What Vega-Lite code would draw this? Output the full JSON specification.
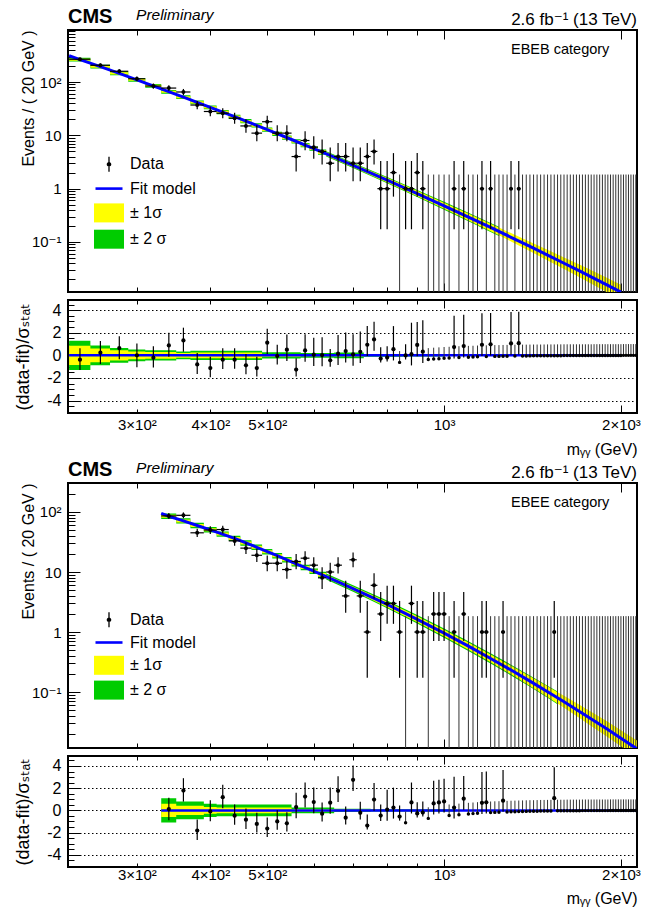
{
"$schema":"https://vega.github.io/schema/vega-lite/v6.json",
"padding":{"left":13,"top":5,"right":5,"bottom":5},
"background":"white",
"config":{"font":"Liberation Sans, DejaVu Sans, sans-serif","view":{"stroke":"black","strokeWidth":2},
"axis":{"labelFont":"Liberation Sans, DejaVu Sans, sans-serif","titleFont":"Liberation Sans, DejaVu Sans, sans-serif","labelColor":"black","titleColor":"black","tickColor":"black","tickWidth":1,"domain":false,"grid":false,"titleFontWeight":"normal","labelFontSize":15,"labelOverlap":false,"labelFlush":false}},
"datasets":{
"d1":[
{"m":240,"a":230,"b":250,"n":267,"lo":250.7,"hi":284.3,"p":-0.38,"pl":-1.3,"ph":0.62},
{"m":260,"a":250,"b":270,"n":206,"lo":191.6,"hi":221.4,"p":0.24,"pl":-0.76,"ph":1.27},
{"m":280,"a":270,"b":290,"n":159,"lo":146.4,"hi":172.6,"p":0.65,"pl":-0.35,"ph":1.7},
{"m":300,"a":290,"b":310,"n":115,"lo":104.3,"hi":126.7,"p":0,"pl":-1.05,"ph":1.05},
{"m":320,"a":310,"b":330,"n":84,"lo":74.8,"hi":94.2,"p":-0.2,"pl":-1.07,"ph":0.8},
{"m":340,"a":330,"b":350,"n":77,"lo":68.2,"hi":86.8,"p":0.88,"pl":-0.12,"ph":2.0},
{"m":360,"a":350,"b":370,"n":65,"lo":56.9,"hi":74.1,"p":1.32,"pl":0.32,"ph":2.45},
{"m":380,"a":370,"b":390,"n":37,"lo":30.9,"hi":44.1,"p":-0.8,"pl":-1.65,"ph":0.2},
{"m":400,"a":390,"b":410,"n":28,"lo":22.7,"hi":34.3,"p":-1.12,"pl":-1.93,"ph":-0.12},
{"m":420,"a":410,"b":430,"n":26,"lo":20.9,"hi":32.1,"p":-0.38,"pl":-1.2,"ph":0.62},
{"m":440,"a":430,"b":450,"n":21,"lo":16.5,"hi":26.6,"p":-0.38,"pl":-1.18,"ph":0.62},
{"m":460,"a":450,"b":470,"n":15,"lo":11.17,"hi":19.95,"p":-0.88,"pl":-1.66,"ph":0.12},
{"m":480,"a":470,"b":490,"n":11,"lo":7.73,"hi":15.42,"p":-1.12,"pl":-1.86,"ph":-0.12},
{"m":500,"a":490,"b":510,"n":18,"lo":13.8,"hi":23.3,"p":1.12,"pl":0.12,"ph":2.36},
{"m":520,"a":510,"b":530,"n":11,"lo":7.73,"hi":15.42,"p":-0.06,"pl":-0.8,"ph":0.94},
{"m":540,"a":530,"b":550,"n":11,"lo":7.73,"hi":15.42,"p":0.5,"pl":-0.5,"ph":1.85},
{"m":560,"a":550,"b":570,"n":4,"lo":2.09,"hi":7.16,"p":-1.26,"pl":-1.87,"ph":-0.26},
{"m":580,"a":570,"b":590,"n":8,"lo":5.23,"hi":11.95,"p":0.44,"pl":-0.56,"ph":1.87},
{"m":600,"a":590,"b":610,"n":6,"lo":3.62,"hi":9.58,"p":0.06,"pl":-0.94,"ph":1.56},
{"m":620,"a":610,"b":630,"n":5,"lo":2.84,"hi":8.38,"p":0.03,"pl":-0.97,"ph":1.6},
{"m":640,"a":630,"b":650,"n":3,"lo":1.37,"hi":5.92,"p":-0.44,"pl":-1.0,"ph":0.56},
{"m":660,"a":650,"b":670,"n":4,"lo":2.09,"hi":7.16,"p":0.15,"pl":-0.85,"ph":1.8},
{"m":680,"a":670,"b":690,"n":4,"lo":2.09,"hi":7.16,"p":0.38,"pl":-0.62,"ph":2.03},
{"m":700,"a":690,"b":710,"n":3,"lo":1.37,"hi":5.92,"p":0.09,"pl":-0.91,"ph":1.88},
{"m":720,"a":710,"b":730,"n":3,"lo":1.37,"hi":5.92,"p":0.32,"pl":-0.68,"ph":2.11},
{"m":740,"a":730,"b":750,"n":4,"lo":2.09,"hi":7.16,"p":0.94,"pl":-0.06,"ph":2.59},
{"m":760,"a":750,"b":770,"n":5,"lo":2.84,"hi":8.38,"p":1.41,"pl":0.41,"ph":2.98},
{"m":780,"a":770,"b":790,"n":1,"lo":0.173,"hi":3.3,"p":-0.28,"pl":-0.64,"ph":0.72},
{"m":800,"a":790,"b":810,"n":1,"lo":0.173,"hi":3.3,"p":-0.19,"pl":-0.55,"ph":0.81},
{"m":820,"a":810,"b":830,"n":2,"lo":0.708,"hi":4.64,"p":0.55,"pl":-0.45,"ph":2.59},
{"m":860,"a":850,"b":870,"n":1,"lo":0.173,"hi":3.3,"p":-0.01,"pl":-0.37,"ph":0.99},
{"m":880,"a":870,"b":890,"n":1,"lo":0.173,"hi":3.3,"p":0.11,"pl":-0.89,"ph":2.89},
{"m":900,"a":890,"b":910,"n":2,"lo":0.708,"hi":4.64,"p":0.92,"pl":-0.08,"ph":2.96},
{"m":920,"a":910,"b":930,"n":1,"lo":0.173,"hi":3.3,"p":0.33,"pl":-0.67,"ph":3.11},
{"m":1040,"a":1030,"b":1050,"n":1,"lo":0.173,"hi":3.3,"p":0.73,"pl":-0.27,"ph":3.51},
{"m":1080,"a":1070,"b":1090,"n":1,"lo":0.173,"hi":3.3,"p":0.82,"pl":-0.18,"ph":3.6},
{"m":1160,"a":1150,"b":1170,"n":1,"lo":0.173,"hi":3.3,"p":0.94,"pl":-0.06,"ph":3.72},
{"m":1200,"a":1190,"b":1210,"n":1,"lo":0.173,"hi":3.3,"p":0.98,"pl":-0.02,"ph":3.76},
{"m":1300,"a":1290,"b":1310,"n":1,"lo":0.173,"hi":3.3,"p":1.06,"pl":0.06,"ph":3.84},
{"m":1340,"a":1330,"b":1350,"n":1,"lo":0.173,"hi":3.3,"p":1.08,"pl":0.08,"ph":3.86}],
"z1":[
{"m":840,"p":-0.62,"ph":0.38},{"m":940,"p":-0.36,"ph":0.64},{"m":960,"p":-0.32,"ph":0.68},{"m":980,"p":-0.29,"ph":0.71},{"m":1000,"p":-0.26,"ph":0.74},{"m":1020,"p":-0.24,"ph":0.76},{"m":1060,"p":-0.19,"ph":0.81},{"m":1100,"p":-0.16,"ph":0.84},{"m":1120,"p":-0.15,"ph":0.85},{"m":1140,"p":-0.13,"ph":0.87},{"m":1180,"p":-0.11,"ph":0.89},{"m":1220,"p":-0.09,"ph":0.91},{"m":1240,"p":-0.09,"ph":0.91},{"m":1260,"p":-0.08,"ph":0.92},{"m":1280,"p":-0.07,"ph":0.93},{"m":1320,"p":-0.06,"ph":0.94},{"m":1360,"p":-0.05,"ph":0.95},{"m":1380,"p":-0.05,"ph":0.95},{"m":1400,"p":-0.045,"ph":0.955},{"m":1420,"p":-0.04,"ph":0.96},{"m":1440,"p":-0.04,"ph":0.96},{"m":1460,"p":-0.04,"ph":0.96},{"m":1480,"p":-0.035,"ph":0.965},{"m":1500,"p":-0.03,"ph":0.97},{"m":1520,"p":-0.03,"ph":0.97},{"m":1540,"p":-0.03,"ph":0.97},{"m":1560,"p":-0.025,"ph":0.975},{"m":1580,"p":-0.025,"ph":0.975},{"m":1600,"p":-0.02,"ph":0.98},{"m":1620,"p":-0.02,"ph":0.98},{"m":1640,"p":-0.02,"ph":0.98},{"m":1660,"p":-0.02,"ph":0.98},{"m":1680,"p":-0.02,"ph":0.98},{"m":1700,"p":-0.02,"ph":0.98},{"m":1720,"p":-0.02,"ph":0.98},{"m":1740,"p":-0.02,"ph":0.98},{"m":1760,"p":-0.02,"ph":0.98},{"m":1780,"p":-0.02,"ph":0.98},{"m":1800,"p":-0.01,"ph":0.99},{"m":1820,"p":-0.01,"ph":0.99},{"m":1840,"p":-0.01,"ph":0.99},{"m":1860,"p":-0.01,"ph":0.99},{"m":1880,"p":-0.01,"ph":0.99},{"m":1900,"p":-0.01,"ph":0.99},{"m":1920,"p":-0.01,"ph":0.99},{"m":1940,"p":-0.01,"ph":0.99},{"m":1960,"p":-0.01,"ph":0.99},{"m":1980,"p":-0.01,"ph":0.99},{"m":2000,"p":-0.01,"ph":0.99},{"m":2020,"p":0,"ph":1},{"m":2040,"p":0,"ph":1},{"m":2060,"p":0,"ph":1},{"m":2080,"p":0,"ph":1},{"m":2100,"p":0,"ph":1},{"m":2120,"p":0,"ph":1}],
"f1":[{"m":230,"f":313},{"m":240,"f":262},{"m":260,"f":194},{"m":280,"f":145},{"m":300,"f":110},{"m":330,"f":74.5},{"m":360,"f":51.9},{"m":400,"f":33.5},{"m":450,"f":20.3},{"m":500,"f":12.8},{"m":550,"f":8.35},{"m":600,"f":5.62},{"m":650,"f":3.89},{"m":700,"f":2.74},{"m":800,"f":1.443},{"m":900,"f":0.81},{"m":1000,"f":0.477},{"m":1100,"f":0.2935},{"m":1200,"f":0.187},{"m":1300,"f":0.1225},{"m":1400,"f":0.0825},{"m":1500,"f":0.0568},{"m":1600,"f":0.0399},{"m":1700,"f":0.0286},{"m":1800,"f":0.0208},{"m":1900,"f":0.0153},{"m":2000,"f":0.01145}],
"s1":[
{"m":230,"y1l":250.2,"y1h":274.3,"y2l":241.7,"y2h":284.0},
{"m":250,"y1l":185.3,"y1h":203.1,"y2l":179.0,"y2h":210.3},
{"m":270,"y1l":138.5,"y1h":151.8,"y2l":133.8,"y2h":157.2},
{"m":290,"y1l":105.1,"y1h":115.2,"y2l":101.5,"y2h":119.2},
{"m":310,"y1l":80.7,"y1h":88.5,"y2l":78.0,"y2h":91.6},
{"m":330,"y1l":62.6,"y1h":68.7,"y2l":60.5,"y2h":71.1},
{"m":350,"y1l":49.6,"y1h":54.3,"y2l":47.9,"y2h":56.3},
{"m":370,"y1l":39.6,"y1h":43.5,"y2l":38.3,"y2h":45.0},
{"m":390,"y1l":32.0,"y1h":35.1,"y2l":30.9,"y2h":36.3},
{"m":410,"y1l":25.68,"y1h":28.81,"y2l":24.81,"y2h":29.82},
{"m":430,"y1l":21.05,"y1h":23.62,"y2l":20.34,"y2h":24.45},
{"m":450,"y1l":17.37,"y1h":19.49,"y2l":16.78,"y2h":20.18},
{"m":470,"y1l":14.44,"y1h":16.21,"y2l":13.95,"y2h":16.78},
{"m":490,"y1l":12.08,"y1h":13.56,"y2l":11.67,"y2h":14.04},
{"m":510,"y1l":10.10,"y1h":11.33,"y2l":9.76,"y2h":11.73},
{"m":530,"y1l":8.55,"y1h":9.60,"y2l":8.26,"y2h":9.93},
{"m":550,"y1l":7.26,"y1h":8.15,"y2l":7.01,"y2h":8.43},
{"m":570,"y1l":6.18,"y1h":6.94,"y2l":5.97,"y2h":7.18},
{"m":590,"y1l":5.31,"y1h":5.95,"y2l":5.13,"y2h":6.16},
{"m":610,"y1l":4.456,"y1h":5.235,"y2l":4.305,"y2h":5.419},
{"m":630,"y1l":4.456,"y1h":5.235,"y2l":4.305,"y2h":5.419}],
"c1":[
{"m":630,"y1l":4.133,"y1h":4.856,"y2l":3.993,"y2h":5.027},
{"m":700,"y1l":2.528,"y1h":2.970,"y2l":2.442,"y2h":3.074},
{"m":800,"y1l":1.301,"y1h":1.600,"y2l":1.257,"y2h":1.657},
{"m":900,"y1l":0.722,"y1h":0.909,"y2l":0.697,"y2h":0.941},
{"m":1000,"y1l":0.419,"y1h":0.543,"y2l":0.401,"y2h":0.567},
{"m":1100,"y1l":0.2527,"y1h":0.3409,"y2l":0.2441,"y2h":0.3529},
{"m":1200,"y1l":0.1592,"y1h":0.2197,"y2l":0.1538,"y2h":0.2274},
{"m":1240,"y1l":0.1339,"y1h":0.1865,"y2l":0.1293,"y2h":0.1930},
{"m":1300,"y1l":0.1024,"y1h":0.1466},
{"m":1400,"y1l":0.0671,"y1h":0.1015},
{"m":1500,"y1l":0.0451,"y1h":0.0715},
{"m":1600,"y1l":0.0310,"y1h":0.0514},
{"m":1700,"y1l":0.0217,"y1h":0.0377},
{"m":1800,"y1l":0.01549,"y1h":0.02793},
{"m":1900,"y1l":0.01121,"y1h":0.02088},
{"m":2000,"y1l":0.00829,"y1h":0.01581}],
"r1":[
{"m":230,"yl":-0.85,"yh":0.85,"gl":-1.3,"gh":1.3},
{"m":250,"yl":-0.6,"yh":0.6,"gl":-0.88,"gh":0.88},
{"m":270,"yl":-0.45,"yh":0.45,"gl":-0.65,"gh":0.65},
{"m":290,"yl":-0.35,"yh":0.35,"gl":-0.53,"gh":0.53},
{"m":310,"yl":-0.3,"yh":0.3,"gl":-0.45,"gh":0.45},
{"m":350,"yl":-0.22,"yh":0.22,"gl":-0.35,"gh":0.35},
{"m":370,"yl":-0.25,"yh":0.25,"gl":-0.4,"gh":0.4},
{"m":490,"yl":-0.12,"yh":0.12,"gl":-0.28,"gh":0.28},
{"m":570,"yl":-0.08,"yh":0.08,"gl":-0.2,"gh":0.2},
{"m":650,"yl":-0.1,"yh":0.1,"gl":-0.25,"gh":0.25},
{"m":730,"yl":-0.06,"yh":0.06,"gl":-0.12,"gh":0.12},
{"m":850,"yl":-0.05,"yh":0.05,"gl":-0.1,"gh":0.1},
{"m":1000,"yl":-0.05,"yh":0.05,"gl":-0.1,"gh":0.1}],
"d2":[
{"m":340,"a":330,"b":350,"n":86,"lo":76.7,"hi":96.3,"p":0.12,"pl":-0.88,"ph":1.14},
{"m":360,"a":350,"b":370,"n":88,"lo":78.6,"hi":98.4,"p":1.79,"pl":0.79,"ph":2.9},
{"m":380,"a":370,"b":390,"n":45,"lo":38.3,"hi":52.7,"p":-1.82,"pl":-2.67,"ph":-0.82},
{"m":400,"a":390,"b":410,"n":50,"lo":42.9,"hi":58.1,"p":-0.09,"pl":-0.97,"ph":0.91},
{"m":420,"a":410,"b":430,"n":51,"lo":43.8,"hi":59.2,"p":1.19,"pl":0.19,"ph":2.3},
{"m":440,"a":430,"b":450,"n":33,"lo":27.3,"hi":39.8,"p":-0.48,"pl":-1.3,"ph":0.52},
{"m":460,"a":450,"b":470,"n":25,"lo":20.0,"hi":31.0,"p":-0.84,"pl":-1.67,"ph":0.16},
{"m":480,"a":470,"b":490,"n":19,"lo":14.7,"hi":24.4,"p":-1.22,"pl":-2.0,"ph":-0.22},
{"m":500,"a":490,"b":510,"n":14,"lo":10.3,"hi":18.8,"p":-1.64,"pl":-2.4,"ph":-0.64},
{"m":520,"a":510,"b":530,"n":14,"lo":10.3,"hi":18.8,"p":-0.99,"pl":-1.75,"ph":0.01},
{"m":540,"a":530,"b":550,"n":11,"lo":7.73,"hi":15.42,"p":-1.16,"pl":-1.9,"ph":-0.16},
{"m":560,"a":550,"b":570,"n":15,"lo":11.17,"hi":19.95,"p":0.3,"pl":-0.7,"ph":1.59},
{"m":580,"a":570,"b":590,"n":17,"lo":12.9,"hi":22.2,"p":1.25,"pl":0.25,"ph":2.52},
{"m":600,"a":590,"b":610,"n":13,"lo":9.44,"hi":17.7,"p":0.75,"pl":-0.25,"ph":2.07},
{"m":620,"a":610,"b":630,"n":8,"lo":5.23,"hi":11.95,"p":-0.3,"pl":-1.0,"ph":0.7},
{"m":640,"a":630,"b":650,"n":10,"lo":6.89,"hi":14.27,"p":0.69,"pl":-0.31,"ph":2.06},
{"m":660,"a":650,"b":670,"n":13,"lo":9.44,"hi":17.7,"p":1.76,"pl":0.76,"ph":3.08},
{"m":680,"a":670,"b":690,"n":4,"lo":2.09,"hi":7.16,"p":-0.66,"pl":-1.26,"ph":0.34},
{"m":700,"a":690,"b":710,"n":16,"lo":12.05,"hi":21.1,"p":2.75,"pl":1.75,"ph":4.04},
{"m":720,"a":710,"b":730,"n":4,"lo":2.09,"hi":7.16,"p":-0.22,"pl":-0.83,"ph":0.78},
{"m":740,"a":730,"b":750,"n":1,"lo":0.173,"hi":3.3,"p":-1.37,"pl":-1.73,"ph":-0.37},
{"m":760,"a":750,"b":770,"n":6,"lo":3.62,"hi":9.58,"p":0.97,"pl":-0.03,"ph":2.47},
{"m":780,"a":770,"b":790,"n":2,"lo":0.708,"hi":4.64,"p":-0.47,"pl":-0.96,"ph":0.53},
{"m":800,"a":790,"b":810,"n":3,"lo":1.37,"hi":5.92,"p":0.07,"pl":-0.93,"ph":1.86},
{"m":820,"a":810,"b":830,"n":3,"lo":1.37,"hi":5.92,"p":0.26,"pl":-0.74,"ph":2.05},
{"m":840,"a":830,"b":850,"n":1,"lo":0.173,"hi":3.3,"p":-0.56,"pl":-0.92,"ph":0.44},
{"m":880,"a":870,"b":890,"n":3,"lo":1.37,"hi":5.92,"p":0.72,"pl":-0.28,"ph":2.51},
{"m":900,"a":890,"b":910,"n":1,"lo":0.173,"hi":3.3,"p":-0.27,"pl":-0.63,"ph":0.73},
{"m":920,"a":910,"b":930,"n":1,"lo":0.173,"hi":3.3,"p":-0.2,"pl":-0.56,"ph":0.8},
{"m":960,"a":950,"b":970,"n":2,"lo":0.708,"hi":4.64,"p":0.63,"pl":-0.37,"ph":2.67},
{"m":980,"a":970,"b":990,"n":2,"lo":0.708,"hi":4.64,"p":0.72,"pl":-0.28,"ph":2.76},
{"m":1000,"a":990,"b":1010,"n":2,"lo":0.708,"hi":4.64,"p":0.81,"pl":-0.19,"ph":2.85},
{"m":1040,"a":1030,"b":1050,"n":1,"lo":0.173,"hi":3.3,"p":0.26,"pl":-0.74,"ph":3.04},
{"m":1080,"a":1070,"b":1090,"n":2,"lo":0.708,"hi":4.64,"p":1.05,"pl":0.05,"ph":3.09},
{"m":1160,"a":1150,"b":1170,"n":1,"lo":0.173,"hi":3.3,"p":0.68,"pl":-0.32,"ph":3.46},
{"m":1180,"a":1170,"b":1190,"n":1,"lo":0.173,"hi":3.3,"p":0.73,"pl":-0.27,"ph":3.51},
{"m":1260,"a":1250,"b":1270,"n":1,"lo":0.173,"hi":3.3,"p":0.87,"pl":-0.13,"ph":3.65},
{"m":1540,"a":1530,"b":1550,"n":1,"lo":0.173,"hi":3.3,"p":1.1,"pl":0.1,"ph":3.88}],
"z2":[
{"m":860,"p":-1.11,"ph":-0.11},{"m":940,"p":-0.72,"ph":0.28},{"m":1020,"p":-0.47,"ph":0.53},{"m":1060,"p":-0.39,"ph":0.61},{"m":1100,"p":-0.32,"ph":0.68},{"m":1120,"p":-0.29,"ph":0.71},{"m":1140,"p":-0.26,"ph":0.74},{"m":1200,"p":-0.2,"ph":0.8},{"m":1220,"p":-0.18,"ph":0.82},{"m":1240,"p":-0.17,"ph":0.83},{"m":1280,"p":-0.14,"ph":0.86},{"m":1300,"p":-0.13,"ph":0.87},{"m":1320,"p":-0.12,"ph":0.88},{"m":1340,"p":-0.11,"ph":0.89},{"m":1360,"p":-0.1,"ph":0.9},{"m":1380,"p":-0.09,"ph":0.91},{"m":1400,"p":-0.08,"ph":0.92},{"m":1420,"p":-0.08,"ph":0.92},{"m":1440,"p":-0.07,"ph":0.93},{"m":1460,"p":-0.06,"ph":0.94},{"m":1480,"p":-0.06,"ph":0.94},{"m":1500,"p":-0.055,"ph":0.945},{"m":1520,"p":-0.05,"ph":0.95},{"m":1560,"p":-0.04,"ph":0.96},{"m":1580,"p":-0.04,"ph":0.96},{"m":1600,"p":-0.04,"ph":0.96},{"m":1620,"p":-0.03,"ph":0.97},{"m":1640,"p":-0.03,"ph":0.97},{"m":1660,"p":-0.03,"ph":0.97},{"m":1680,"p":-0.03,"ph":0.97},{"m":1700,"p":-0.03,"ph":0.97},{"m":1720,"p":-0.02,"ph":0.98},{"m":1740,"p":-0.02,"ph":0.98},{"m":1760,"p":-0.02,"ph":0.98},{"m":1780,"p":-0.02,"ph":0.98},{"m":1800,"p":-0.02,"ph":0.98},{"m":1820,"p":-0.02,"ph":0.98},{"m":1840,"p":-0.02,"ph":0.98},{"m":1860,"p":-0.02,"ph":0.98},{"m":1880,"p":-0.02,"ph":0.98},{"m":1900,"p":-0.02,"ph":0.98},{"m":1920,"p":-0.01,"ph":0.99},{"m":1940,"p":-0.01,"ph":0.99},{"m":1960,"p":-0.01,"ph":0.99},{"m":1980,"p":-0.01,"ph":0.99},{"m":2000,"p":-0.01,"ph":0.99},{"m":2020,"p":-0.01,"ph":0.99},{"m":2040,"p":-0.01,"ph":0.99},{"m":2060,"p":-0.01,"ph":0.99},{"m":2080,"p":-0.01,"ph":0.99},{"m":2100,"p":-0.01,"ph":0.99},{"m":2120,"p":-0.01,"ph":0.99}],
"f2":[{"m":330,"f":94.5},{"m":340,"f":85},{"m":360,"f":71},{"m":380,"f":59.5},{"m":400,"f":50.5},{"m":440,"f":36.3},{"m":480,"f":25.8},{"m":520,"f":18.7},{"m":560,"f":13.7},{"m":600,"f":10.3},{"m":650,"f":7.35},{"m":700,"f":5.31},{"m":800,"f":2.88},{"m":900,"f":1.631},{"m":1000,"f":0.959},{"m":1100,"f":0.582},{"m":1200,"f":0.363},{"m":1300,"f":0.2325},{"m":1400,"f":0.152},{"m":1500,"f":0.1015},{"m":1600,"f":0.0689},{"m":1700,"f":0.0476},{"m":1800,"f":0.0333},{"m":1900,"f":0.0237},{"m":2000,"f":0.017},{"m":2130,"f":0.0113}],
"s2":[
{"m":330,"y1l":80.24,"y1h":90.04,"y2l":76.63,"y2h":94.28},
{"m":350,"y1l":67.03,"y1h":75.21,"y2l":64.01,"y2h":78.75},
{"m":370,"y1l":56.17,"y1h":63.03,"y2l":53.64,"y2h":66.0},
{"m":390,"y1l":47.67,"y1h":53.49,"y2l":45.53,"y2h":56.01},
{"m":410,"y1l":40.40,"y1h":45.34,"y2l":38.59,"y2h":47.47},
{"m":430,"y1l":34.27,"y1h":38.45,"y2l":32.73,"y2h":40.26},
{"m":450,"y1l":28.79,"y1h":32.31,"y2l":27.50,"y2h":33.83},
{"m":470,"y1l":24.36,"y1h":27.33,"y2l":23.26,"y2h":28.62},
{"m":490,"y1l":20.58,"y1h":23.09,"y2l":19.65,"y2h":24.18},
{"m":510,"y1l":17.65,"y1h":19.81,"y2l":16.86,"y2h":20.74},
{"m":530,"y1l":15.10,"y1h":16.95,"y2l":14.42,"y2h":17.75},
{"m":550,"y1l":12.93,"y1h":14.51,"y2l":12.35,"y2h":15.20},
{"m":570,"y1l":11.23,"y1h":12.61,"y2l":10.73,"y2h":13.20},
{"m":590,"y1l":9.72,"y1h":10.91,"y2l":9.29,"y2h":11.42},
{"m":610,"y1l":8.40,"y1h":9.64,"y2l":8.02,"y2h":10.10},
{"m":630,"y1l":8.40,"y1h":9.64,"y2l":8.02,"y2h":10.10}],
"c2":[
{"m":630,"y1l":7.84,"y1h":9.00,"y2l":7.49,"y2h":9.42},
{"m":700,"y1l":4.899,"y1h":5.755,"y2l":4.678,"y2h":6.027},
{"m":800,"y1l":2.597,"y1h":3.194,"y2l":2.480,"y2h":3.345},
{"m":900,"y1l":1.454,"y1h":1.830,"y2l":1.388,"y2h":1.916},
{"m":1000,"y1l":0.843,"y1h":1.091,"y2l":0.807,"y2h":1.140},
{"m":1100,"y1l":0.507,"y1h":0.668,"y2l":0.484,"y2h":0.700},
{"m":1200,"y1l":0.3126,"y1h":0.4216,"y2l":0.2985,"y2h":0.4415},
{"m":1300,"y1l":0.1979,"y1h":0.2732,"y2l":0.1890,"y2h":0.2860},
{"m":1400,"y1l":0.1264,"y1h":0.1827,"y2l":0.1221,"y2h":0.1892},
{"m":1500,"y1l":0.0825,"y1h":0.1249,"y2l":0.0806,"y2h":0.1278},
{"m":1560,"y1l":0.0643,"y1h":0.0996,"y2l":0.0628,"y2h":0.1019},
{"m":1600,"y1l":0.0547,"y1h":0.0867},
{"m":1700,"y1l":0.0370,"y1h":0.0613},
{"m":1800,"y1l":0.0253,"y1h":0.0439},
{"m":1900,"y1l":0.0176,"y1h":0.0320},
{"m":2000,"y1l":0.01246,"y1h":0.0232},
{"m":2130,"y1l":0.00819,"y1h":0.0156}],
"r2":[
{"m":330,"yl":-0.6,"yh":0.6,"gl":-1.1,"gh":1.1},
{"m":350,"yl":-0.42,"yh":0.42,"gl":-0.8,"gh":0.8},
{"m":390,"yl":-0.3,"yh":0.3,"gl":-0.6,"gh":0.6},
{"m":410,"yl":-0.25,"yh":0.25,"gl":-0.52,"gh":0.52},
{"m":550,"yl":-0.12,"yh":0.12,"gl":-0.25,"gh":0.25},
{"m":650,"yl":-0.07,"yh":0.07,"gl":-0.15,"gh":0.15},
{"m":750,"yl":-0.05,"yh":0.05,"gl":-0.1,"gh":0.1},
{"m":1050,"yl":-0.05,"yh":0.05,"gl":-0.1,"gh":0.1}]
},
"vconcat":[
{"width":569,"height":262,
"resolve":{"axis":{"x":"independent","y":"independent"}},
"layer":[
{"data":{"name":"s1"},"mark":{"type":"area","interpolate":"step-after","color":"#00cc00","clip":true},
"encoding":{"x":{"field":"m","type":"quantitative","scale":{"type":"log","domain":[229,2130],"nice":false},
"axis":{"orient":"bottom","values":[300,400,500,600,700,800,900,1000,2000],"labels":false,"title":null,"tickSize":{"condition":{"test":"datum.value >= 1000","value":-9},"value":-5}}},
"y":{"field":"y2l","type":"quantitative","scale":{"type":"log","domain":[0.01153,945],"nice":false},
"axis":{"orient":"left","values":[0.02,0.03,0.04,0.05,0.06,0.07,0.08,0.09,0.1,0.2,0.3,0.4,0.5,0.6,0.7,0.8,0.9,1,2,3,4,5,6,7,8,9,10,20,30,40,50,60,70,80,90,100,200,300,400,500,600,700,800,900],
"labelExpr":"datum.value == 100 ? '10²' : datum.value == 10 ? '10' : datum.value == 1 ? '1' : datum.value == 0.1 ? '10⁻¹' : ''",
"tickSize":{"condition":{"test":"datum.value == 0.1 || datum.value == 1 || datum.value == 10 || datum.value == 100","value":-12},"value":-7},
"labelPadding":19,"labelFontSize":15,"title":"Events / ( 20 GeV )","titleFontSize":16,"titleAngle":270,"titleAlign":"right","titleBaseline":"alphabetic","titleX":-34.5,"titleY":0}},
"y2":{"field":"y2h"}}},
{"data":{"name":"s1"},"mark":{"type":"area","interpolate":"step-after","color":"#ffff00","clip":true},
"encoding":{"x":{"field":"m","type":"quantitative","scale":{"type":"log","domain":[229,2130],"nice":false},
"axis":{"orient":"top","values":[300,400,500,600,700,800,900,1000,2000],"labels":false,"title":null,"tickSize":{"condition":{"test":"datum.value >= 1000","value":-9},"value":-5}}},
"y":{"field":"y1l","type":"quantitative","scale":{"type":"log","domain":[0.01153,945],"nice":false},"axis":null},
"y2":{"field":"y1h"}}},
{"data":{"name":"c1"},"transform":[{"filter":"isValid(datum.y2l)"}],"mark":{"type":"area","color":"#00cc00","clip":true},
"encoding":{"x":{"field":"m","type":"quantitative","scale":{"type":"log","domain":[229,2130],"nice":false},"axis":null},
"y":{"field":"y2l","type":"quantitative","scale":{"type":"log","domain":[0.01153,945],"nice":false},"axis":null},"y2":{"field":"y2h"}}},
{"data":{"name":"c1"},"mark":{"type":"area","color":"#ffff00","clip":true},
"encoding":{"x":{"field":"m","type":"quantitative","scale":{"type":"log","domain":[229,2130],"nice":false},"axis":null},
"y":{"field":"y1l","type":"quantitative","scale":{"type":"log","domain":[0.01153,945],"nice":false},"axis":null},"y2":{"field":"y1h"}}},
{"data":{"name":"z1"},"mark":{"type":"rule","color":"#333333","strokeWidth":1,"clip":true},
"encoding":{"x":{"field":"m","type":"quantitative","scale":{"type":"log","domain":[229,2130],"nice":false},"axis":null},
"y":{"datum":0.001,"type":"quantitative","scale":{"type":"log","domain":[0.01153,945],"nice":false},"axis":null},"y2":{"datum":1.84}}},
{"data":{"name":"f1"},"mark":{"type":"line","color":"#0000ff","strokeWidth":3,"clip":true},
"encoding":{"x":{"field":"m","type":"quantitative","scale":{"type":"log","domain":[229,2130],"nice":false},"axis":null},
"y":{"field":"f","type":"quantitative","scale":{"type":"log","domain":[0.01153,945],"nice":false},"axis":null}}},
{"data":{"name":"d1"},"mark":{"type":"rule","color":"black","strokeWidth":1.2,"clip":true},
"encoding":{"x":{"field":"m","type":"quantitative","scale":{"type":"log","domain":[229,2130],"nice":false},"axis":null},
"y":{"field":"lo","type":"quantitative","scale":{"type":"log","domain":[0.01153,945],"nice":false},"axis":null},"y2":{"field":"hi"}}},
{"data":{"name":"d1"},"mark":{"type":"rule","color":"black","strokeWidth":1.2,"clip":true},
"encoding":{"x":{"field":"a","type":"quantitative","scale":{"type":"log","domain":[229,2130],"nice":false},"axis":null},"x2":{"field":"b"},
"y":{"field":"n","type":"quantitative","scale":{"type":"log","domain":[0.01153,945],"nice":false},"axis":null}}},
{"data":{"name":"d1"},"mark":{"type":"point","filled":true,"color":"black","size":16,"opacity":1,"shape":"circle"},
"encoding":{"x":{"field":"m","type":"quantitative","scale":{"type":"log","domain":[229,2130],"nice":false},"axis":null},
"y":{"field":"n","type":"quantitative","scale":{"type":"log","domain":[0.01153,945],"nice":false},"axis":null}}},
{"data":{"values":[{"s":"Data"},{"s":"Fit model"},{"s":"± 1σ"},{"s":"± 2 σ"}]},
"mark":{"type":"point","filled":true,"clip":true,"opacity":1,"strokeWidth":0,"size":400},
"encoding":{"x":{"datum":100,"type":"quantitative","scale":{"type":"log","domain":[229,2130],"nice":false},"axis":null},
"y":{"datum":1,"type":"quantitative","scale":{"type":"log","domain":[0.01153,945],"nice":false},"axis":null},
"color":{"field":"s","type":"nominal","scale":{"domain":["Data","Fit model","± 1σ","± 2 σ"],"range":["#000000","#0000ff","#ffff00","#00cc00"]},
"legend":{"orient":"none","legendX":31,"legendY":124.3,"title":null,"symbolSize":400,"labelFontSize":16,"labelFont":"Liberation Sans, DejaVu Sans, sans-serif","labelColor":"black","labelOffset":11,"rowPadding":6.3,"padding":0,"symbolStrokeWidth":0,"symbolOpacity":1,"labelLimit":300}},
"shape":{"field":"s","type":"nominal","scale":{"domain":["Data","Fit model","± 1σ","± 2 σ"],"range":["M-0.065,-0.75L0.065,-0.75L0.065,-0.2L-0.065,-0.2Z M-0.065,0.2L0.065,0.2L0.065,0.75L-0.065,0.75Z M-0.23,0A0.23,0.23 0 1,1 0.23,0A0.23,0.23 0 1,1 -0.23,0Z","M-1.35,-0.13L1.35,-0.13L1.35,0.13L-1.35,0.13Z","M-1.5,-0.95L1.5,-0.95L1.5,0.95L-1.5,0.95Z","M-1.5,-0.95L1.5,-0.95L1.5,0.95L-1.5,0.95Z"]},
"legend":{"orient":"none","legendX":31,"legendY":124.3,"title":null,"symbolSize":400,"labelFontSize":16,"labelFont":"Liberation Sans, DejaVu Sans, sans-serif","labelColor":"black","labelOffset":11,"rowPadding":6.3,"padding":0,"symbolStrokeWidth":0,"symbolOpacity":1,"labelLimit":300}}}},
{"data":{"values":[{}]},"mark":{"type":"text","text":"CMS","fontSize":20,"fontWeight":"bold","align":"left","baseline":"alphabetic","color":"black"},
"encoding":{"x":{"datum":229,"type":"quantitative","scale":{"type":"log","domain":[229,2130],"nice":false},"axis":null},
"y":{"datum":1295,"type":"quantitative","scale":{"type":"log","domain":[0.01153,945],"nice":false},"axis":null}}},
{"data":{"values":[{}]},"mark":{"type":"text","text":"Preliminary","fontSize":15.5,"fontStyle":"italic","align":"left","baseline":"alphabetic","color":"black"},
"encoding":{"x":{"datum":299,"type":"quantitative","scale":{"type":"log","domain":[229,2130],"nice":false},"axis":null},
"y":{"datum":1437,"type":"quantitative","scale":{"type":"log","domain":[0.01153,945],"nice":false},"axis":null}}},
{"data":{"values":[{}]},"mark":{"type":"text","text":"2.6 fb⁻¹ (13 TeV)","fontSize":17,"align":"right","baseline":"alphabetic","color":"black"},
"encoding":{"x":{"datum":2130,"type":"quantitative","scale":{"type":"log","domain":[229,2130],"nice":false},"axis":null},
"y":{"datum":1198,"type":"quantitative","scale":{"type":"log","domain":[0.01153,945],"nice":false},"axis":null}}},
{"data":{"values":[{}]},"mark":{"type":"text","text":"EBEB category","fontSize":14.5,"align":"left","baseline":"alphabetic","color":"black"},
"encoding":{"x":{"datum":1300,"type":"quantitative","scale":{"type":"log","domain":[229,2130],"nice":false},"axis":null},
"y":{"datum":331,"type":"quantitative","scale":{"type":"log","domain":[0.01153,945],"nice":false},"axis":null}}}
]},
{"width":569,"height":113,
"resolve":{"axis":{"x":"independent","y":"independent"}},
"layer":[
{"data":{"name":"r1"},"mark":{"type":"area","interpolate":"step-after","color":"#00cc00","clip":true},
"encoding":{"x":{"field":"m","type":"quantitative","scale":{"type":"log","domain":[229,2130],"nice":false},
"axis":{"orient":"bottom","values":[300,400,500,600,700,800,900,1000,2000],
"labelExpr":"datum.value == 300 ? '3×10²' : datum.value == 400 ? '4×10²' : datum.value == 500 ? '5×10²' : datum.value == 1000 ? '10³' : datum.value == 2000 ? '2×10³' : ''",
"labelBaseline":"alphabetic","labelFontSize":15,"labelPadding":{"condition":{"test":"datum.value >= 1000","value":24},"value":20},
"tickSize":{"condition":{"test":"datum.value >= 1000","value":-8},"value":-4},
"title":"mᵧᵧ (GeV)","titleFontSize":16,"titleX":569,"titleY":41,"titleAlign":"right","titleBaseline":"alphabetic"}},
"y":{"field":"gl","type":"quantitative","scale":{"domain":[-5.1,4.9],"nice":false,"zero":false},
"axis":{"orient":"left","values":[-5,-4.5,-4,-3.5,-3,-2.5,-2,-1.5,-1,-0.5,0,0.5,1,1.5,2,2.5,3,3.5,4,4.5],
"labelExpr":"datum.value == 4 ? '4' : datum.value == 2 ? '2' : datum.value == 0 ? '0' : datum.value == -2 ? '-2' : datum.value == -4 ? '-4' : ''",
"tickSize":{"condition":{"test":"datum.value == 4 || datum.value == 2 || datum.value == 0 || datum.value == -2 || datum.value == -4","value":-12},"value":-6},
"labelPadding":19,"labelFontSize":16,"title":"(data-fit)/σₛₜₐₜ","titleFontSize":18,"titleAngle":270,"titleAlign":"center","titleBaseline":"alphabetic","titleX":-39.5,"titleY":56.5}},
"y2":{"field":"gh"}}},
{"data":{"name":"r1"},"mark":{"type":"area","interpolate":"step-after","color":"#ffff00","clip":true},
"encoding":{"x":{"field":"m","type":"quantitative","scale":{"type":"log","domain":[229,2130],"nice":false},
"axis":{"orient":"top","values":[300,400,500,600,700,800,900,1000,2000],"labels":false,"title":null,"tickSize":{"condition":{"test":"datum.value >= 1000","value":-8},"value":-4}}},
"y":{"field":"yl","type":"quantitative","scale":{"domain":[-5.1,4.9],"nice":false,"zero":false},
"axis":{"orient":"right","values":[-4,-2,0,2,4],"grid":true,"gridColor":"black","gridDash":[1.5,2.5],"gridWidth":1,"ticks":false,"labels":false,"title":null}},
"y2":{"field":"yh"}}},
{"data":{"values":[{}]},"mark":{"type":"rule","color":"#0000ff","strokeWidth":2.5},
"encoding":{"x":{"datum":230,"type":"quantitative","scale":{"type":"log","domain":[229,2130],"nice":false},"axis":null},"x2":{"datum":2000},
"y":{"datum":0,"type":"quantitative","scale":{"domain":[-5.1,4.9],"nice":false,"zero":false},"axis":null}}},
{"data":{"name":"z1"},"mark":{"type":"rule","color":"#333333","strokeWidth":1},
"encoding":{"x":{"field":"m","type":"quantitative","scale":{"type":"log","domain":[229,2130],"nice":false},"axis":null},
"y":{"field":"p","type":"quantitative","scale":{"domain":[-5.1,4.9],"nice":false,"zero":false},"axis":null},"y2":{"field":"ph"}}},
{"data":{"name":"z1"},"mark":{"type":"point","filled":true,"color":"black","size":12,"opacity":1,"shape":"circle"},
"encoding":{"x":{"field":"m","type":"quantitative","scale":{"type":"log","domain":[229,2130],"nice":false},"axis":null},
"y":{"field":"p","type":"quantitative","scale":{"domain":[-5.1,4.9],"nice":false,"zero":false},"axis":null}}},
{"data":{"name":"d1"},"mark":{"type":"rule","color":"black","strokeWidth":1.2},
"encoding":{"x":{"field":"m","type":"quantitative","scale":{"type":"log","domain":[229,2130],"nice":false},"axis":null},
"y":{"field":"pl","type":"quantitative","scale":{"domain":[-5.1,4.9],"nice":false,"zero":false},"axis":null},"y2":{"field":"ph"}}},
{"data":{"name":"d1"},"mark":{"type":"point","filled":true,"color":"black","size":18,"opacity":1,"shape":"circle"},
"encoding":{"x":{"field":"m","type":"quantitative","scale":{"type":"log","domain":[229,2130],"nice":false},"axis":null},
"y":{"field":"p","type":"quantitative","scale":{"domain":[-5.1,4.9],"nice":false,"zero":false},"axis":null}}}
]},
{"width":569,"height":54,"view":{"stroke":null},"data":{"values":[{}]},"mark":{"type":"point","opacity":0}},
{"width":569,"height":265,
"resolve":{"axis":{"x":"independent","y":"independent"}},
"layer":[
{"data":{"name":"s2"},"mark":{"type":"area","interpolate":"step-after","color":"#00cc00","clip":true},
"encoding":{"x":{"field":"m","type":"quantitative","scale":{"type":"log","domain":[229,2130],"nice":false},
"axis":{"orient":"bottom","values":[300,400,500,600,700,800,900,1000,2000],"labels":false,"title":null,"tickSize":{"condition":{"test":"datum.value >= 1000","value":-9},"value":-5}}},
"y":{"field":"y2l","type":"quantitative","scale":{"type":"log","domain":[0.0117,304],"nice":false},
"axis":{"orient":"left","values":[0.02,0.03,0.04,0.05,0.06,0.07,0.08,0.09,0.1,0.2,0.3,0.4,0.5,0.6,0.7,0.8,0.9,1,2,3,4,5,6,7,8,9,10,20,30,40,50,60,70,80,90,100,200,300],
"labelExpr":"datum.value == 100 ? '10²' : datum.value == 10 ? '10' : datum.value == 1 ? '1' : datum.value == 0.1 ? '10⁻¹' : ''",
"tickSize":{"condition":{"test":"datum.value == 0.1 || datum.value == 1 || datum.value == 10 || datum.value == 100","value":-12},"value":-7},
"labelPadding":19,"labelFontSize":15,"title":"Events / ( 20 GeV )","titleFontSize":16,"titleAngle":270,"titleAlign":"right","titleBaseline":"alphabetic","titleX":-34.5,"titleY":0}},
"y2":{"field":"y2h"}}},
{"data":{"name":"s2"},"mark":{"type":"area","interpolate":"step-after","color":"#ffff00","clip":true},
"encoding":{"x":{"field":"m","type":"quantitative","scale":{"type":"log","domain":[229,2130],"nice":false},
"axis":{"orient":"top","values":[300,400,500,600,700,800,900,1000,2000],"labels":false,"title":null,"tickSize":{"condition":{"test":"datum.value >= 1000","value":-9},"value":-5}}},
"y":{"field":"y1l","type":"quantitative","scale":{"type":"log","domain":[0.0117,304],"nice":false},"axis":null},
"y2":{"field":"y1h"}}},
{"data":{"name":"c2"},"transform":[{"filter":"isValid(datum.y2l)"}],"mark":{"type":"area","color":"#00cc00","clip":true},
"encoding":{"x":{"field":"m","type":"quantitative","scale":{"type":"log","domain":[229,2130],"nice":false},"axis":null},
"y":{"field":"y2l","type":"quantitative","scale":{"type":"log","domain":[0.0117,304],"nice":false},"axis":null},"y2":{"field":"y2h"}}},
{"data":{"name":"c2"},"mark":{"type":"area","color":"#ffff00","clip":true},
"encoding":{"x":{"field":"m","type":"quantitative","scale":{"type":"log","domain":[229,2130],"nice":false},"axis":null},
"y":{"field":"y1l","type":"quantitative","scale":{"type":"log","domain":[0.0117,304],"nice":false},"axis":null},"y2":{"field":"y1h"}}},
{"data":{"name":"z2"},"mark":{"type":"rule","color":"#333333","strokeWidth":1,"clip":true},
"encoding":{"x":{"field":"m","type":"quantitative","scale":{"type":"log","domain":[229,2130],"nice":false},"axis":null},
"y":{"datum":0.001,"type":"quantitative","scale":{"type":"log","domain":[0.0117,304],"nice":false},"axis":null},"y2":{"datum":1.84}}},
{"data":{"name":"f2"},"mark":{"type":"line","color":"#0000ff","strokeWidth":3,"clip":true},
"encoding":{"x":{"field":"m","type":"quantitative","scale":{"type":"log","domain":[229,2130],"nice":false},"axis":null},
"y":{"field":"f","type":"quantitative","scale":{"type":"log","domain":[0.0117,304],"nice":false},"axis":null}}},
{"data":{"name":"d2"},"mark":{"type":"rule","color":"black","strokeWidth":1.2,"clip":true},
"encoding":{"x":{"field":"m","type":"quantitative","scale":{"type":"log","domain":[229,2130],"nice":false},"axis":null},
"y":{"field":"lo","type":"quantitative","scale":{"type":"log","domain":[0.0117,304],"nice":false},"axis":null},"y2":{"field":"hi"}}},
{"data":{"name":"d2"},"mark":{"type":"rule","color":"black","strokeWidth":1.2,"clip":true},
"encoding":{"x":{"field":"a","type":"quantitative","scale":{"type":"log","domain":[229,2130],"nice":false},"axis":null},"x2":{"field":"b"},
"y":{"field":"n","type":"quantitative","scale":{"type":"log","domain":[0.0117,304],"nice":false},"axis":null}}},
{"data":{"name":"d2"},"mark":{"type":"point","filled":true,"color":"black","size":16,"opacity":1,"shape":"circle"},
"encoding":{"x":{"field":"m","type":"quantitative","scale":{"type":"log","domain":[229,2130],"nice":false},"axis":null},
"y":{"field":"n","type":"quantitative","scale":{"type":"log","domain":[0.0117,304],"nice":false},"axis":null}}},
{"data":{"values":[{"s":"Data"},{"s":"Fit model"},{"s":"± 1σ"},{"s":"± 2 σ"}]},
"mark":{"type":"point","filled":true,"clip":true,"opacity":1,"strokeWidth":0,"size":400},
"encoding":{"x":{"datum":100,"type":"quantitative","scale":{"type":"log","domain":[229,2130],"nice":false},"axis":null},
"y":{"datum":1,"type":"quantitative","scale":{"type":"log","domain":[0.0117,304],"nice":false},"axis":null},
"color":{"field":"s","type":"nominal","scale":{"domain":["Data","Fit model","± 1σ","± 2 σ"],"range":["#000000","#0000ff","#ffff00","#00cc00"]},
"legend":{"orient":"none","legendX":31,"legendY":126.7,"title":null,"symbolSize":400,"labelFontSize":16,"labelFont":"Liberation Sans, DejaVu Sans, sans-serif","labelColor":"black","labelOffset":11,"rowPadding":4.8,"padding":0,"symbolStrokeWidth":0,"symbolOpacity":1,"labelLimit":300}},
"shape":{"field":"s","type":"nominal","scale":{"domain":["Data","Fit model","± 1σ","± 2 σ"],"range":["M-0.065,-0.75L0.065,-0.75L0.065,-0.2L-0.065,-0.2Z M-0.065,0.2L0.065,0.2L0.065,0.75L-0.065,0.75Z M-0.23,0A0.23,0.23 0 1,1 0.23,0A0.23,0.23 0 1,1 -0.23,0Z","M-1.35,-0.13L1.35,-0.13L1.35,0.13L-1.35,0.13Z","M-1.5,-0.95L1.5,-0.95L1.5,0.95L-1.5,0.95Z","M-1.5,-0.95L1.5,-0.95L1.5,0.95L-1.5,0.95Z"]},
"legend":{"orient":"none","legendX":31,"legendY":126.7,"title":null,"symbolSize":400,"labelFontSize":16,"labelFont":"Liberation Sans, DejaVu Sans, sans-serif","labelColor":"black","labelOffset":11,"rowPadding":4.8,"padding":0,"symbolStrokeWidth":0,"symbolOpacity":1,"labelLimit":300}}}},
{"data":{"values":[{}]},"mark":{"type":"text","text":"CMS","fontSize":20,"fontWeight":"bold","align":"left","baseline":"alphabetic","color":"black"},
"encoding":{"x":{"datum":229,"type":"quantitative","scale":{"type":"log","domain":[229,2130],"nice":false},"axis":null},
"y":{"datum":402,"type":"quantitative","scale":{"type":"log","domain":[0.0117,304],"nice":false},"axis":null}}},
{"data":{"values":[{}]},"mark":{"type":"text","text":"Preliminary","fontSize":15.5,"fontStyle":"italic","align":"left","baseline":"alphabetic","color":"black"},
"encoding":{"x":{"datum":299,"type":"quantitative","scale":{"type":"log","domain":[229,2130],"nice":false},"axis":null},
"y":{"datum":441,"type":"quantitative","scale":{"type":"log","domain":[0.0117,304],"nice":false},"axis":null}}},
{"data":{"values":[{}]},"mark":{"type":"text","text":"2.6 fb⁻¹ (13 TeV)","fontSize":17,"align":"right","baseline":"alphabetic","color":"black"},
"encoding":{"x":{"datum":2130,"type":"quantitative","scale":{"type":"log","domain":[229,2130],"nice":false},"axis":null},
"y":{"datum":375,"type":"quantitative","scale":{"type":"log","domain":[0.0117,304],"nice":false},"axis":null}}},
{"data":{"values":[{}]},"mark":{"type":"text","text":"EBEE category","fontSize":14.5,"align":"left","baseline":"alphabetic","color":"black"},
"encoding":{"x":{"datum":1300,"type":"quantitative","scale":{"type":"log","domain":[229,2130],"nice":false},"axis":null},
"y":{"datum":119.7,"type":"quantitative","scale":{"type":"log","domain":[0.0117,304],"nice":false},"axis":null}}}
]},
{"width":569,"height":111,
"resolve":{"axis":{"x":"independent","y":"independent"}},
"layer":[
{"data":{"name":"r2"},"mark":{"type":"area","interpolate":"step-after","color":"#00cc00","clip":true},
"encoding":{"x":{"field":"m","type":"quantitative","scale":{"type":"log","domain":[229,2130],"nice":false},
"axis":{"orient":"bottom","values":[300,400,500,600,700,800,900,1000,2000],
"labelExpr":"datum.value == 300 ? '3×10²' : datum.value == 400 ? '4×10²' : datum.value == 500 ? '5×10²' : datum.value == 1000 ? '10³' : datum.value == 2000 ? '2×10³' : ''",
"labelBaseline":"alphabetic","labelFontSize":15,"labelPadding":{"condition":{"test":"datum.value >= 1000","value":20},"value":16},
"tickSize":{"condition":{"test":"datum.value >= 1000","value":-8},"value":-4},
"title":"mᵧᵧ (GeV)","titleFontSize":16,"titleX":569,"titleY":36,"titleAlign":"right","titleBaseline":"alphabetic"}},
"y":{"field":"gl","type":"quantitative","scale":{"domain":[-5.1,4.9],"nice":false,"zero":false},
"axis":{"orient":"left","values":[-5,-4.5,-4,-3.5,-3,-2.5,-2,-1.5,-1,-0.5,0,0.5,1,1.5,2,2.5,3,3.5,4,4.5],
"labelExpr":"datum.value == 4 ? '4' : datum.value == 2 ? '2' : datum.value == 0 ? '0' : datum.value == -2 ? '-2' : datum.value == -4 ? '-4' : ''",
"tickSize":{"condition":{"test":"datum.value == 4 || datum.value == 2 || datum.value == 0 || datum.value == -2 || datum.value == -4","value":-12},"value":-6},
"labelPadding":19,"labelFontSize":16,"title":"(data-fit)/σₛₜₐₜ","titleFontSize":18,"titleAngle":270,"titleAlign":"center","titleBaseline":"alphabetic","titleX":-39.5,"titleY":55.5}},
"y2":{"field":"gh"}}},
{"data":{"name":"r2"},"mark":{"type":"area","interpolate":"step-after","color":"#ffff00","clip":true},
"encoding":{"x":{"field":"m","type":"quantitative","scale":{"type":"log","domain":[229,2130],"nice":false},
"axis":{"orient":"top","values":[300,400,500,600,700,800,900,1000,2000],"labels":false,"title":null,"tickSize":{"condition":{"test":"datum.value >= 1000","value":-8},"value":-4}}},
"y":{"field":"yl","type":"quantitative","scale":{"domain":[-5.1,4.9],"nice":false,"zero":false},
"axis":{"orient":"right","values":[-4,-2,0,2,4],"grid":true,"gridColor":"black","gridDash":[1.5,2.5],"gridWidth":1,"ticks":false,"labels":false,"title":null}},
"y2":{"field":"yh"}}},
{"data":{"values":[{}]},"mark":{"type":"rule","color":"#0000ff","strokeWidth":2.5},
"encoding":{"x":{"datum":330,"type":"quantitative","scale":{"type":"log","domain":[229,2130],"nice":false},"axis":null},"x2":{"datum":2130},
"y":{"datum":0,"type":"quantitative","scale":{"domain":[-5.1,4.9],"nice":false,"zero":false},"axis":null}}},
{"data":{"name":"z2"},"mark":{"type":"rule","color":"#333333","strokeWidth":1},
"encoding":{"x":{"field":"m","type":"quantitative","scale":{"type":"log","domain":[229,2130],"nice":false},"axis":null},
"y":{"field":"p","type":"quantitative","scale":{"domain":[-5.1,4.9],"nice":false,"zero":false},"axis":null},"y2":{"field":"ph"}}},
{"data":{"name":"z2"},"mark":{"type":"point","filled":true,"color":"black","size":12,"opacity":1,"shape":"circle"},
"encoding":{"x":{"field":"m","type":"quantitative","scale":{"type":"log","domain":[229,2130],"nice":false},"axis":null},
"y":{"field":"p","type":"quantitative","scale":{"domain":[-5.1,4.9],"nice":false,"zero":false},"axis":null}}},
{"data":{"name":"d2"},"mark":{"type":"rule","color":"black","strokeWidth":1.2},
"encoding":{"x":{"field":"m","type":"quantitative","scale":{"type":"log","domain":[229,2130],"nice":false},"axis":null},
"y":{"field":"pl","type":"quantitative","scale":{"domain":[-5.1,4.9],"nice":false,"zero":false},"axis":null},"y2":{"field":"ph"}}},
{"data":{"name":"d2"},"mark":{"type":"point","filled":true,"color":"black","size":18,"opacity":1,"shape":"circle"},
"encoding":{"x":{"field":"m","type":"quantitative","scale":{"type":"log","domain":[229,2130],"nice":false},"axis":null},
"y":{"field":"p","type":"quantitative","scale":{"domain":[-5.1,4.9],"nice":false,"zero":false},"axis":null}}}
]}
],
"spacing":8,
"bounds":"flush",
"resolve":{"scale":{"color":"independent","shape":"independent"}}
}
